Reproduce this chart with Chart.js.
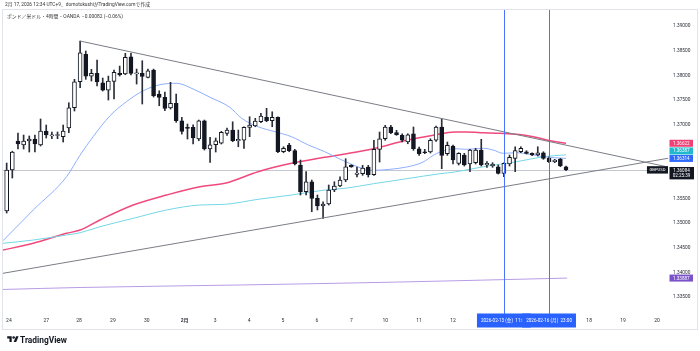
<!DOCTYPE html>
<html><head><meta charset="utf-8">
<script src="https://cdn.jsdelivr.net/npm/chart.js@4.4.1/dist/chart.umd.min.js"></script>
<style>
html,body{margin:0;padding:0;background:#fff;}
#wrap{position:relative;width:700px;height:351px;overflow:hidden;background:#fff;}
#c{position:absolute;left:0;top:0;}
.fit{position:absolute;white-space:nowrap;line-height:10px;height:10px;font-size:10px;transform-origin:left center;font-family:Roboto,"Noto Sans CJK JP",sans-serif;color:#333;}
</style></head><body>
<div id="wrap">
<canvas id="c" width="700" height="351"></canvas>
<div class="fit" data-w="145" style="left:5px;top:0px;">2月 17, 2026 12:34 UTC+9、domotokushiがTradingView.comで作成</div>
<div class="fit" data-w="116" style="left:7px;top:12px;">ポンド／米ドル・4時間・OANDA&nbsp;&nbsp;−0.00082 (−0.06%)</div>
<svg style="position:absolute;left:7px;top:335px" width="12" height="9" viewBox="0 0 36 28"><path d="M14 22H7V11H0V4h14v18zM28 22h-8l7.5-18h8L28 22z" fill="#131722"/><circle cx="20" cy="8" r="4" fill="#131722"/></svg>
<div class="fit" data-w="47" style="left:20px;top:334.5px;font-weight:700;color:#131722;font-family:Roboto,sans-serif;font-size:10px;">TradingView</div>
</div>
<script>
// ---- candle data (GBPUSD 4h) ----
const opens = [1.35248,1.36079,1.36667,1.36586,1.36667,1.36708,1.36586,1.36870,1.36769,1.36779,
1.36755,1.36931,1.37343,1.37870,1.38426,1.37985,1.38040,1.37850,1.37701,1.37878,
1.38040,1.38026,1.38377,1.38030,1.38040,1.37959,1.38107,1.37620,1.37553,1.37337,
1.37432,1.37079,1.36945,1.36945,1.36708,1.37079,1.36505,1.36592,1.36626,1.36823,
1.36890,1.36673,1.36687,1.36945,1.36972,1.37058,1.37148,1.37079,1.37148,1.36450,
1.36586,1.36471,1.36181,1.35639,1.35842,1.35505,1.35349,1.35390,1.35673,1.35755,
1.35876,1.36174,1.35992,1.36004,1.36140,1.35984,1.36499,1.36714,1.36951,1.36836,
1.36783,1.36647,1.36815,1.36511,1.36444,1.36444,1.36682,1.36951,1.36410,1.36566,
1.36215,1.36383,1.36201,1.36227,1.36484,1.36181,1.36160,1.36146,1.36012,1.36201,
1.36316,1.36450,1.36450,1.36418,1.36383,1.36430,1.36316,1.36248,1.36296,1.36146];
const highs = [1.36221,1.36460,1.36830,1.36789,1.36769,1.36789,1.37114,1.36992,1.36850,1.36850,
1.36992,1.37444,1.37919,1.38695,1.38493,1.38121,1.38310,1.37945,1.37985,1.38107,
1.38188,1.38446,1.38446,1.38127,1.38296,1.38127,1.38127,1.37687,1.37661,1.37858,
1.37620,1.37148,1.37012,1.36998,1.37093,1.37093,1.36742,1.36728,1.36864,1.36931,
1.37058,1.36890,1.36957,1.37160,1.37127,1.37229,1.37330,1.37261,1.37160,1.36551,
1.36621,1.36499,1.36282,1.36045,1.35876,1.35572,1.35436,1.35775,1.35842,1.35943,
1.36308,1.36187,1.36140,1.36174,1.36174,1.36682,1.36850,1.36986,1.36986,1.36884,
1.36815,1.36815,1.36951,1.36546,1.36499,1.36714,1.36972,1.37120,1.36647,1.36586,
1.36430,1.36418,1.36499,1.36519,1.36702,1.36248,1.36227,1.36181,1.36227,1.36383,
1.36551,1.36551,1.36471,1.36430,1.36551,1.36450,1.36349,1.36296,1.36316,1.36160];
const lows = [1.35207,1.35917,1.36505,1.36505,1.36444,1.36444,1.36566,1.36728,1.36714,1.36714,
1.36647,1.36836,1.37276,1.37748,1.37919,1.37884,1.37783,1.37681,1.37499,1.37519,
1.37985,1.38012,1.38006,1.37823,1.37418,1.37945,1.37560,1.37383,1.37282,1.37316,
1.37047,1.36809,1.36708,1.36607,1.36673,1.36484,1.36235,1.36444,1.36607,1.36783,
1.36653,1.36551,1.36519,1.36755,1.36957,1.37038,1.37058,1.36957,1.36430,1.36430,
1.36450,1.36181,1.35572,1.35572,1.35233,1.35268,1.35099,1.35369,1.35639,1.35740,
1.35842,1.36134,1.35937,1.35971,1.35937,1.35971,1.36241,1.36682,1.36815,1.36783,
1.36647,1.36612,1.36479,1.36377,1.36410,1.36424,1.36661,1.36106,1.36377,1.36201,
1.36181,1.36160,1.36045,1.36201,1.36160,1.36134,1.36134,1.35998,1.35943,1.36160,
1.36045,1.36430,1.36404,1.36369,1.36363,1.36296,1.36227,1.36227,1.36146,1.36065];
const closes = [1.36079,1.36444,1.36607,1.36667,1.36708,1.36607,1.36870,1.36789,1.36795,1.36785,
1.36870,1.37343,1.37870,1.38458,1.37985,1.38040,1.37864,1.37701,1.37884,1.38061,
1.38012,1.38365,1.38040,1.38046,1.37979,1.38093,1.37586,1.37553,1.37330,1.37432,
1.37079,1.36864,1.36925,1.36728,1.37079,1.36505,1.36592,1.36673,1.36843,1.36890,
1.36673,1.36701,1.36945,1.36992,1.37073,1.37174,1.37079,1.37148,1.36450,1.36519,
1.36471,1.36201,1.35639,1.35842,1.35505,1.35349,1.35390,1.35673,1.35755,1.35876,
1.36146,1.36140,1.36018,1.36120,1.35984,1.36499,1.36714,1.36951,1.36836,1.36795,
1.36682,1.36795,1.36511,1.36410,1.36430,1.36682,1.36951,1.36377,1.36580,1.36282,
1.36418,1.36181,1.36484,1.36484,1.36181,1.36215,1.36201,1.36012,1.36215,1.36337,
1.36471,1.36519,1.36418,1.36383,1.36430,1.36316,1.36248,1.36282,1.36160,1.36084];

// ---- moving averages (at candle positions) ----
const maBlueX = [-0.65,4.7,10.6,13,15.3,18.3,21.2,24.2,27.1,30.1,33,36,39.5,41.6,44.5,47.5,50.4,53.4,56.3,58.7,60.8,63.1,64.9,67.8,70.8,73.7,75.5,76.7,79.3,81.4,84.4,86.1,87.9,90.3,92.6,95,99];
const maBlueY = [1.34645,1.35268,1.35943,1.36383,1.36755,1.37181,1.37465,1.37688,1.37809,1.37838,1.37722,1.37554,1.37351,1.37128,1.36957,1.36856,1.36755,1.36586,1.36450,1.36316,1.36207,1.36106,1.36073,1.36093,1.36140,1.36241,1.36377,1.36444,1.36511,1.36499,1.36519,1.36485,1.36418,1.36430,1.36398,1.36349,1.36314];
const maPinkX = [-0.65,4.7,10.6,13,16.5,22.4,28.3,34.2,38.6,44.5,50.4,56.3,59.9,64.9,70.8,75.5,79.3,81.4,84.4,87.3,90.3,93.2,96.2,99];
const maPinkY = [1.34456,1.34592,1.34795,1.34862,1.35065,1.35369,1.35572,1.35740,1.35809,1.36045,1.36215,1.36337,1.36404,1.36511,1.36682,1.36783,1.36850,1.36850,1.36836,1.36823,1.36803,1.36755,1.36673,1.36622];
const maCyanX = [-0.65,4.7,10.6,13,16.5,22.4,28.3,34.2,38.6,44.5,50.4,56.3,59.9,64.9,70.8,76.7,79.3,84.4,90.3,95,99];
const maCyanY = [1.34592,1.34659,1.34761,1.34807,1.34929,1.35099,1.35268,1.35369,1.35383,1.35485,1.35572,1.35673,1.35708,1.35801,1.35903,1.36004,1.36039,1.36146,1.36248,1.36349,1.36387];
const maPurpleX = [-0.65,13,41.3,69.6,99.2];
const maPurpleY = [1.33656,1.33696,1.33747,1.33807,1.33887];

// ---- drawn trend lines ----
const upperX = [13,117.05];
const upperY = [1.38695,1.36140];
const lowerX = [-0.65,117.05];
const lowerY = [1.33984,1.36317];

// ---- axes ----
const xMin = -0.65, xMax = 117.05;
const yMin = 1.33199, yMax = 1.39325;
const xTickPos = [0.4,7,12.8,18.8,24.8,31.5,36.9,42.9,48.9,54.9,61,67,73,79,103.1,109.1,115.1];
const xTickLabels = ['24','27','28','29','30','2月','3','4','5','6','7','10','11','12','18','19','20'];
const yTicks = [1.335,1.34,1.345,1.35,1.355,1.37,1.375,1.38,1.385,1.39];
const vLines = [88,96];
const vLineLabels = ['2026-02-13 (金)  11:00','2026-02-16 (月)  23:00'];
const lastPrice = 1.36084;
const countdown = '02:25:39';
const symbol = 'GBPUSD';
const tags = [
  {v:1.36622, t:'1.36622', bg:'#ef3f74'},
  {v:1.36387, t:'1.36387', bg:'#1fb8cc'},
  {v:1.36314, t:'1.36314', bg:'#2f6bff'},
  {v:1.33887, t:'1.33887', bg:'#7b52c9'}
];

const FONT = 'Roboto, "Noto Sans CJK JP", sans-serif';
const pts = (xs,ys)=>xs.map((x,i)=>({x, y:ys[i]}));
const wickData = opens.map((o,i)=>({x:i, y:[lows[i], highs[i]]}));
const bodyData = opens.map((o,i)=>({x:i, y:[o, closes[i]]}));
const bodyFill = opens.map((o,i)=> closes[i] >= o ? '#ffffff' : '#131722');

function lineDs(data, color, w, order, tension){
  return {type:'line', data, borderColor:color, borderWidth:w, pointRadius:0, fill:false, order, tension: tension||0, cubicInterpolationMode: tension? 'monotone':'default'};
}

const overlay = {
  id:'overlay',
  beforeDatasetsDraw(chart){
    const {ctx, chartArea:a, scales:{y}} = chart;
    const py = Math.round(y.getPixelForValue(lastPrice))+0.5;
    ctx.save();
    ctx.strokeStyle='#c4c7cf'; ctx.lineWidth=1;
    ctx.beginPath(); ctx.moveTo(a.left,py); ctx.lineTo(a.right,py); ctx.stroke();
    ctx.restore();
  },
  afterDatasetsDraw(chart){
    const {ctx, chartArea:a, scales:{x}} = chart;
    ctx.save();
    ctx.strokeStyle='#4a74ff'; ctx.lineWidth=1;
    vLines.forEach(v=>{
      const px = Math.round(x.getPixelForValue(v))+0.5;
      ctx.beginPath(); ctx.moveTo(px,a.top); ctx.lineTo(px,a.bottom+2); ctx.stroke();
    });
    ctx.restore();
  },
  afterDraw(chart){
    const {ctx, chartArea:a, scales:{x,y}} = chart;
    ctx.save();
    // frame
    ctx.strokeStyle='#e0e3eb'; ctx.lineWidth=1;
    ctx.strokeRect(2.5,9.5,695,320);
    // date labels of vertical lines
    ctx.font = '4.6px '+FONT; ctx.textBaseline='middle'; ctx.textAlign='center';
    vLines.forEach((v,i)=>{
      const px = x.getPixelForValue(v);
      const w = ctx.measureText(vLineLabels[i]).width + 8;
      ctx.fillStyle='#2962ff'; ctx.fillRect(px-w/2, a.bottom+1.5, w, 14);
      ctx.fillStyle='#ffffff'; ctx.fillText(vLineLabels[i], px, a.bottom+8.5);
    });
    // price tags
    const H = 7;
    const items = tags.map(t=>({...t, yc:y.getPixelForValue(t.v)})).sort((p,q)=>q.yc-p.yc);
    for(let i=1;i<items.length;i++){
      if(items[i-1].yc - items[i].yc < H+0.5) items[i].yc = items[i-1].yc - H - 0.5;
    }
    ctx.textAlign='center';
    ctx.font='4.6px '+FONT;
    items.forEach(t=>{
      ctx.fillStyle=t.bg; ctx.fillRect(a.right+1.5, t.yc-H/2, 23.5, H);
      ctx.fillStyle='#fff'; ctx.fillText(t.t, a.right+13.3, t.yc+0.3);
    });
    // last price box
    const ly = y.getPixelForValue(lastPrice);
    ctx.fillStyle='#131722'; ctx.fillRect(a.right+1.5, ly-2.8, 24.5, 12.4);
    ctx.fillStyle='#fff';
    ctx.fillText(lastPrice.toFixed(5), a.right+13.5, ly+0.6);
    ctx.fillText(countdown, a.right+13.5, ly+6.2);
    // symbol label
    ctx.font='4.2px '+FONT;
    const sw = ctx.measureText(symbol).width + 5;
    ctx.fillStyle='#131722'; ctx.fillRect(a.right-sw, ly-3.6, sw, 7.4);
    ctx.fillStyle='#fff'; ctx.fillText(symbol, a.right-sw/2, ly+0.2);
    ctx.restore();
  }
};

new Chart(document.getElementById('c'), {
  type:'bar',
  data:{datasets:[
    {type:'bar', data:wickData, backgroundColor:'#2a2e39', barThickness:1, grouped:false, order:4},
    {type:'bar', data:bodyData, backgroundColor:bodyFill, borderColor:'#131722', borderWidth:1, borderSkipped:false, barThickness:4, minBarLength:1, grouped:false, order:3},
    lineDs(pts(maPurpleX,maPurpleY), '#b79ce6', 1, 6, 0.3),
    lineDs(pts(maCyanX,maCyanY), '#74d7e6', 1, 6, 0.3),
    lineDs(pts(maPinkX,maPinkY), '#f04a7d', 1.5, 6, 0.3),
    lineDs(pts(maBlueX,maBlueY), '#8eaeff', 1, 5, 0.3),
    lineDs(pts(upperX,upperY), '#7a7d86', 1, 1),
    lineDs(pts(lowerX,lowerY), '#7a7d86', 1, 1)
  ]},
  options:{
    responsive:false, animation:false, devicePixelRatio:1,
    layout:{padding:{left:3,right:3,top:10,bottom:23}},
    plugins:{legend:{display:false}, tooltip:{enabled:false}},
    scales:{
      x:{type:'linear', min:xMin, max:xMax, offset:false,
         grid:{display:false, drawTicks:false}, border:{display:false},
         afterBuildTicks:s=>{ s.ticks = xTickPos.map(v=>({value:v})); },
         afterFit:s=>{ s.height = 16; },
         ticks:{autoSkip:false, maxRotation:0, padding:6, color:'#2a2e39',
           font:c=>({family:FONT, size:5, weight: (c.index===5?'bold':'normal')}),
           callback:(v,i)=>xTickLabels[i]}},
      y:{type:'linear', position:'right', min:yMin, max:yMax,
         grid:{display:false, drawTicks:false}, border:{display:false},
         afterBuildTicks:s=>{ s.ticks = yTicks.map(v=>({value:v})); },
         afterFit:s=>{ s.width = 29; },
         ticks:{padding:5, color:'#2a2e39', font:{family:FONT, size:4.8},
           callback:v=>Number(v).toFixed(5)}}
    }
  },
  plugins:[overlay]
});

function fitTexts(){
  document.querySelectorAll('.fit').forEach(el=>{
    el.style.transform='none';
    const w = el.getBoundingClientRect().width;
    el.style.transform = 'scale('+(el.dataset.w/w)+')';
  });
}
fitTexts();
if(document.fonts && document.fonts.ready) document.fonts.ready.then(fitTexts);
</script>
</body></html>
